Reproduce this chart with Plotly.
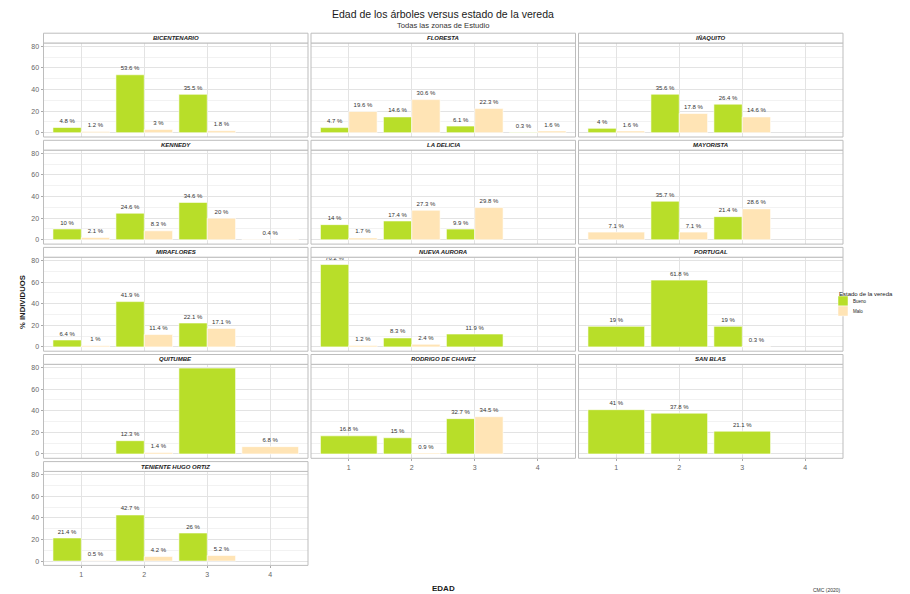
import plotly.graph_objects as go

# Share of trees (%) by age class (EDAD 1-4) and sidewalk condition, per study zone
edades = [1, 2, 3, 4]
zonas = [
    "BICENTENARIO", "FLORESTA", "IÑAQUITO",
    "KENNEDY", "LA DELICIA", "MAYORISTA",
    "MIRAFLORES", "NUEVA AURORA", "PORTUGAL",
    "QUITUMBE", "RODRIGO DE CHAVEZ", "SAN BLAS",
    "TENIENTE HUGO ORTIZ",
]
bueno = [
    [4.8, 53.6, 35.5, None],
    [4.7, 14.6, 6.1, 0.3],
    [4, 35.6, 26.4, None],
    [10, 24.6, 34.6, None],
    [14, 17.4, 9.9, None],
    [None, 35.7, 21.4, None],
    [6.4, 41.9, 22.1, None],
    [76.2, 8.3, 11.9, None],
    [19, 61.8, 19, None],
    [None, 12.3, 79.5, None],
    [16.8, 15, 32.7, None],
    [41, 37.8, 21.1, None],
    [21.4, 42.7, 26, None],
]
malo = [
    [1.2, 3, 1.8, None],
    [19.6, 30.6, 22.3, 1.6],
    [1.6, 17.8, 14.6, None],
    [2.1, 8.3, 20, 0.4],
    [1.7, 27.3, 29.8, None],
    [7.1, 7.1, 28.6, None],
    [1, 11.4, 17.1, None],
    [1.2, 2.4, None, None],
    [None, None, 0.3, None],
    [None, 1.4, None, 6.8],
    [None, 0.9, 34.5, None],
    [None, None, None, None],
    [0.5, 4.2, 5.2, None],
]
y_ticks = [0, 20, 40, 60, 80]

COL_BUENO = "#B8DE29"
COL_MALO = "#FFE4B5"
W, H = 910, 594

def fx(px):
    return px / W

def fy(py):
    return 1 - py / H

col_left = [43.5, 311.0, 578.5]
col_w = 264.5
row_top0, row_pitch, plot_h, strip_h = 43.0, 107.1, 94.0, 9.8
bottom_panel = {0: 12, 1: 10, 2: 11}
DODGE = 0.9

fig = go.Figure()
layout = {}
shapes = []
annotations = []

for i, zona in enumerate(zonas):
    r, c = divmod(i, 3)
    n = i + 1
    xa = "x" if n == 1 else f"x{n}"
    ya = "y" if n == 1 else f"y{n}"
    x0 = col_left[c]
    x1 = x0 + col_w
    top = row_top0 + r * row_pitch
    bot = top + plot_h

    # ggplot-style dodge: a lone bar takes the full slot width
    series = {"Bueno": ([], [], [], [], COL_BUENO), "Malo": ([], [], [], [], COL_MALO)}
    tx, ty, tt = [], [], []
    for k, e in enumerate(edades):
        b, m = bueno[i][k], malo[i][k]
        both = b is not None and m is not None
        for name, v, off in (("Bueno", b, -DODGE / 2), ("Malo", m, 0.0)):
            if v is None:
                continue
            w = DODGE / 2 if both else DODGE
            o = off if both else -DODGE / 2
            xs, ys, ws, os_, _ = series[name]
            xs.append(e)
            ys.append(v)
            ws.append(w)
            os_.append(o)
            tx.append(e + o + w / 2)
            ty.append(v + 5.5)
            tt.append(f"{v:g} %")
    for name, (xs, ys, ws, os_, col) in series.items():
        if xs:
            fig.add_trace(go.Bar(
                x=xs, y=ys, width=ws, offset=os_, name=name,
                marker=dict(color=col, line=dict(color="white", width=0.6)),
                xaxis=xa, yaxis=ya, showlegend=False, hoverinfo="skip",
            ))
    fig.add_trace(go.Scatter(
        x=tx, y=ty, text=tt, mode="text", textposition="middle center",
        textfont=dict(size=6, color="#333333", family="Liberation Sans"),
        xaxis=xa, yaxis=ya, showlegend=False, hoverinfo="skip", cliponaxis=True,
    ))

    key_x = "xaxis" if n == 1 else f"xaxis{n}"
    key_y = "yaxis" if n == 1 else f"yaxis{n}"
    layout[key_x] = dict(
        domain=[fx(x0), fx(x1)], anchor=ya, range=[0.4, 4.6],
        tickvals=edades, ticktext=[str(e) for e in edades],
        showticklabels=(bottom_panel[c] == i), ticks="outside" if bottom_panel[c] == i else "",
        ticklen=2, tickcolor="#AAAAAA",
        tickfont=dict(size=7, color="#666666", family="Liberation Sans"),
        showgrid=True, gridcolor="#E3E3E3", gridwidth=1,
        zeroline=False, showline=False, fixedrange=True,
    )
    layout[key_y] = dict(
        domain=[fy(bot), fy(top)], anchor=xa, range=[-4, 83],
        tickvals=y_ticks, showticklabels=(c == 0), ticks="outside" if c == 0 else "",
        ticklen=2, tickcolor="#AAAAAA",
        tickfont=dict(size=7, color="#666666", family="Liberation Sans"),
        showgrid=True, gridcolor="#E3E3E3", gridwidth=1,
        minor=dict(dtick=10, tick0=0, showgrid=True, gridcolor="#F2F2F2", gridwidth=0.6),
        zeroline=False, showline=False, fixedrange=True,
    )

    # panel frame and strip
    shapes.append(dict(type="rect", xref="paper", yref="paper",
                       x0=fx(x0), x1=fx(x1), y0=fy(bot), y1=fy(top),
                       line=dict(color="#BDBDBD", width=1), fillcolor="rgba(0,0,0,0)"))
    shapes.append(dict(type="rect", xref="paper", yref="paper",
                       x0=fx(x0), x1=fx(x1), y0=fy(top), y1=fy(top - strip_h),
                       line=dict(color="#BDBDBD", width=1), fillcolor="white"))
    annotations.append(dict(
        text=f"<b><i>{zona}</i></b>", xref="paper", yref="paper",
        x=fx((x0 + x1) / 2), y=fy(top - strip_h / 2), showarrow=False,
        xanchor="center", yanchor="middle",
        font=dict(size=6, color="#1A1A1A", family="Liberation Sans"),
    ))

# titles
annotations += [
    dict(text="Edad de los árboles versus estado de la vereda", xref="paper", yref="paper",
         x=fx(443), y=fy(14), showarrow=False, xanchor="center", yanchor="middle",
         font=dict(size=10.5, color="#1A1A1A", family="Liberation Sans")),
    dict(text="Todas las zonas de Estudio", xref="paper", yref="paper",
         x=fx(443), y=fy(25.5), showarrow=False, xanchor="center", yanchor="middle",
         font=dict(size=7.6, color="#333333", family="Liberation Sans")),
    dict(text="<b>% INDIVIDUOS</b>", xref="paper", yref="paper", textangle=-90,
         x=fx(22), y=fy(302), showarrow=False, xanchor="center", yanchor="middle",
         font=dict(size=7.7, color="#1A1A1A", family="Liberation Sans")),
    dict(text="<b>EDAD</b>", xref="paper", yref="paper",
         x=fx(443), y=fy(588), showarrow=False, xanchor="center", yanchor="middle",
         font=dict(size=8, color="#1A1A1A", family="Liberation Sans")),
    dict(text="CMC (2020)", xref="paper", yref="paper",
         x=fx(843), y=fy(590), showarrow=False, xanchor="right", yanchor="middle",
         font=dict(size=5, color="#333333", family="Liberation Sans")),
]

# legend for sidewalk condition
annotations.append(dict(text="Estado de la vereda", xref="paper", yref="paper",
                        x=fx(837), y=fy(294), showarrow=False, xanchor="left", yanchor="middle",
                        font=dict(size=6, color="#1A1A1A", family="Liberation Sans")))
for j, (lab, col) in enumerate((("Bueno", COL_BUENO), ("Malo", COL_MALO))):
    ky = 301 + j * 10
    shapes.append(dict(type="rect", xref="paper", yref="paper",
                       x0=fx(838), x1=fx(848), y0=fy(ky + 5), y1=fy(ky - 5),
                       line=dict(color="white", width=0.5), fillcolor=col))
    annotations.append(dict(text=lab, xref="paper", yref="paper",
                            x=fx(851), y=fy(ky), showarrow=False, xanchor="left", yanchor="middle",
                            font=dict(size=4.5, color="#1A1A1A", family="Liberation Sans")))

fig.update_layout(
    width=W, height=H, margin=dict(l=0, r=0, t=0, b=0),
    paper_bgcolor="white", plot_bgcolor="white",
    barmode="overlay", showlegend=False,
    shapes=shapes, annotations=annotations,
    **layout,
)

fig.write_html("out.html")
